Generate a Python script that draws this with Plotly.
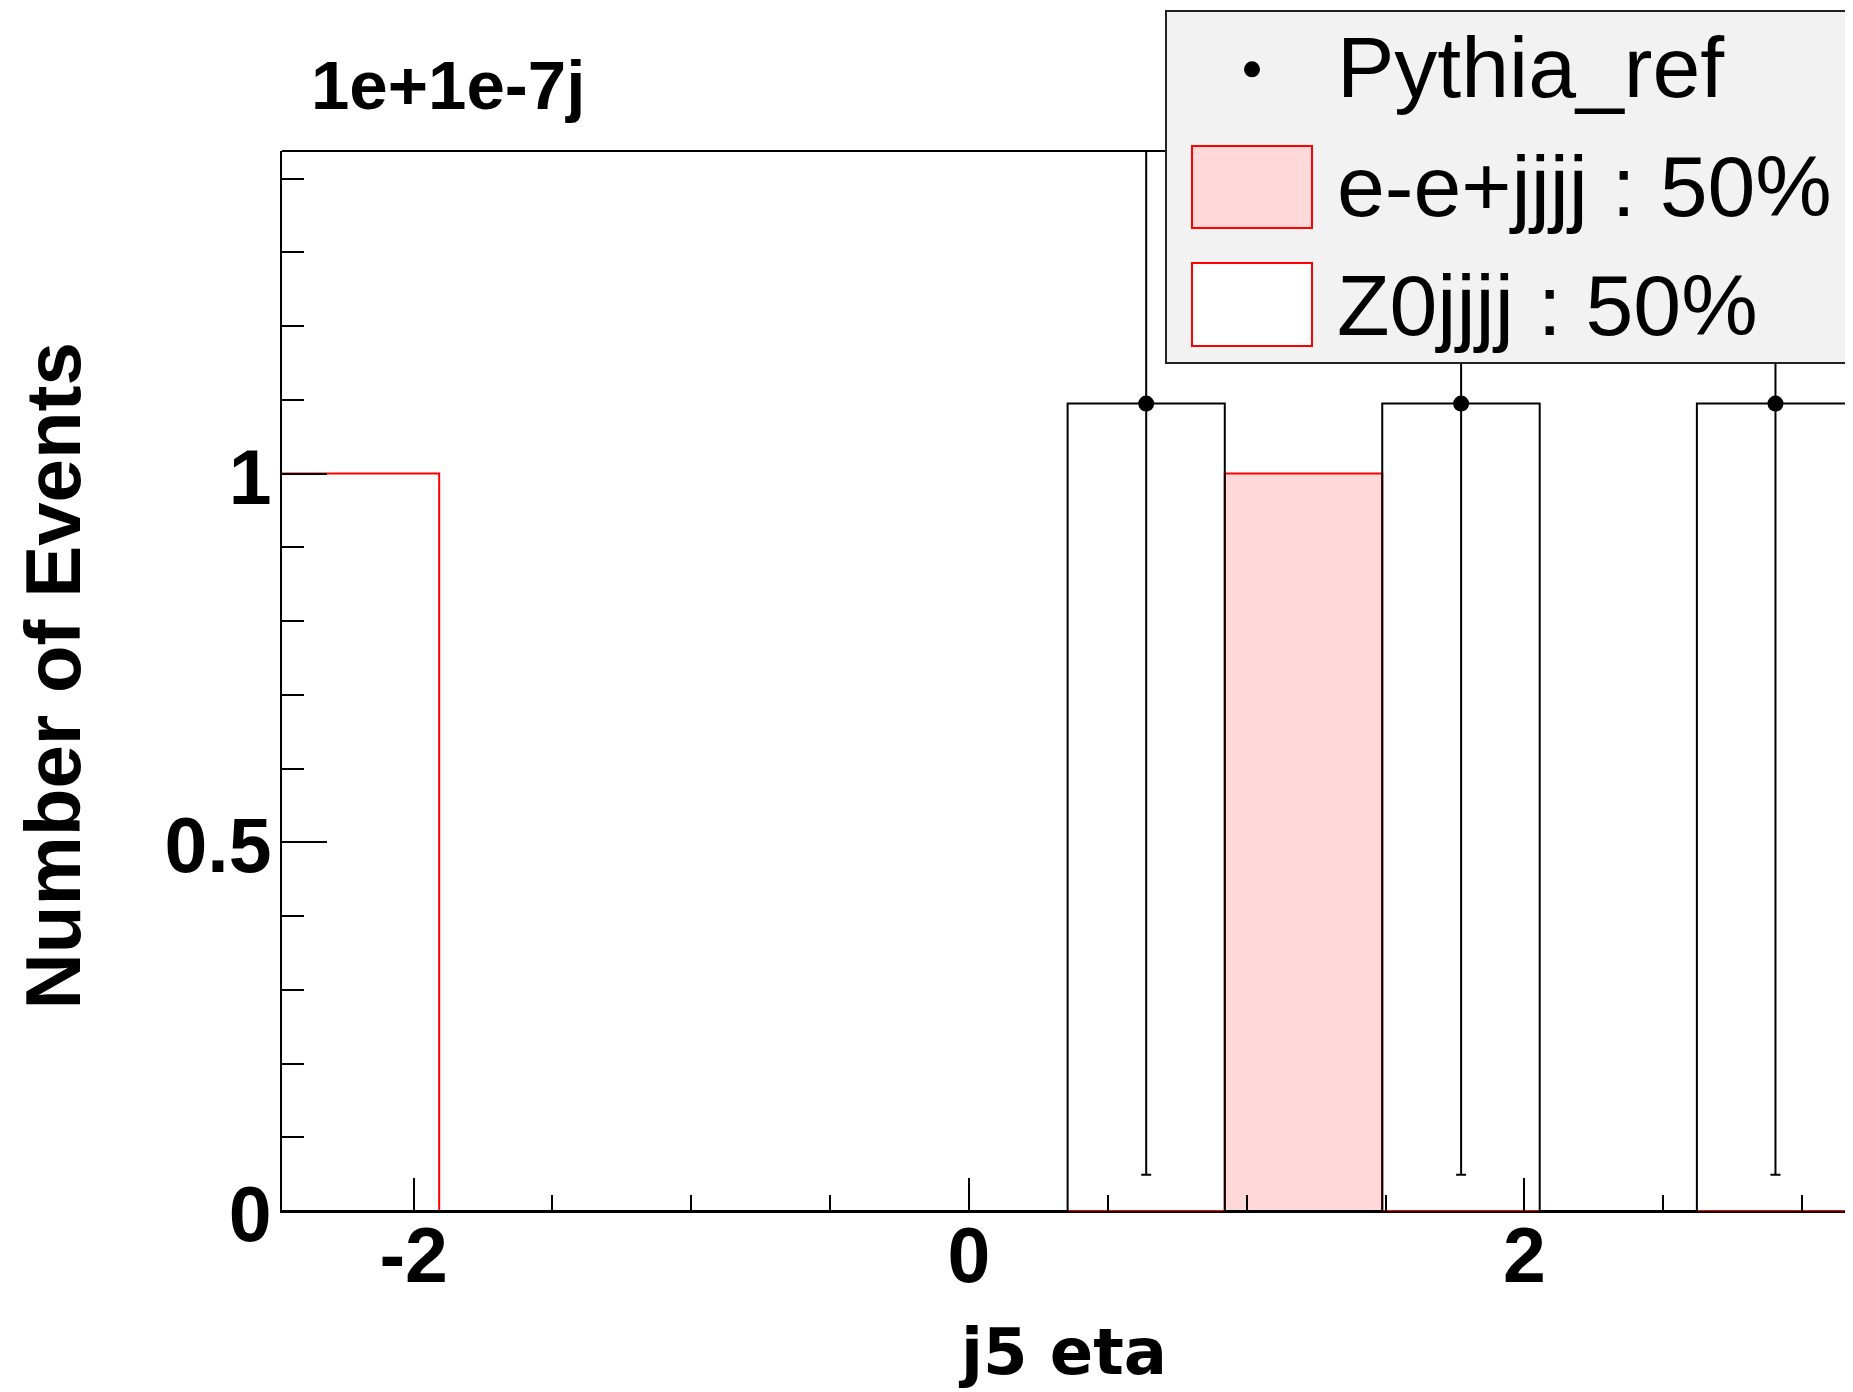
import plotly.graph_objects as go

# ------------------------------------------------------------------
# data
# ------------------------------------------------------------------
edges = [-2.474, -1.908, -1.341, -0.775, -0.210, 0.355, 0.921, 1.488, 2.055, 2.621, 3.188]

pythia_counts = [0, 0, 0, 0, 0, 1.095, 0, 1.095, 0, 1.095]
pythia_x = [0.638, 1.772, 2.904]
pythia_y = [1.095, 1.095, 1.095]
pythia_err = [1.046, 1.046, 1.046]

eejjjj_counts = [0, 0, 0, 0, 0, 0, 1, 0, 0, 0]
z0jjjj_counts = [1, 0, 0, 0, 0, 0, 0, 0, 0, 0]

legend_labels = ["Pythia_ref", "e-e+jjjj : 50%", "Z0jjjj : 50%"]

x_ticks = [-2, 0, 2]
x_ticktext = ["-2", "0", "2"]
y_ticks = [0, 0.5, 1]
y_ticktext = ["0", "0.5", "1"]

# ------------------------------------------------------------------
# geometry (page pixels; the page body adds an 8 px margin)
# ------------------------------------------------------------------
OFF = 8
W, H = 1853 - OFF, 1392 - OFF
L, R, T, B = 282 - OFF, 0, 151 - OFF, 181
PW, PH = W - L - R, H - T - B
PINK = "#ffd9d9"
SANS = "Liberation Sans, Arial, sans-serif"


def px(x):
    return (x - OFF - L) / PW


def py(y):
    return (H - B - (y - OFF)) / PH


def step(counts):
    return edges, list(counts) + [counts[-1]]


fig = go.Figure()

sx, sy = step(z0jjjj_counts)
fig.add_trace(go.Scatter(
    x=sx, y=sy, mode="lines", line=dict(shape="hv", color="red", width=2),
    fill="tozeroy", fillcolor="white", hoverinfo="skip",
))
sx, sy = step(eejjjj_counts)
fig.add_trace(go.Scatter(
    x=sx, y=sy, mode="lines", line=dict(shape="hv", color="red", width=2),
    fill="tozeroy", fillcolor=PINK, hoverinfo="skip",
))
sx, sy = step(pythia_counts)
fig.add_trace(go.Scatter(
    x=sx, y=sy, mode="lines", line=dict(shape="hv", color="black", width=2),
    hoverinfo="skip",
))
fig.add_trace(go.Scatter(
    x=pythia_x, y=pythia_y, mode="markers",
    marker=dict(color="black", size=16),
    error_y=dict(type="data", array=pythia_err, color="black", thickness=2, width=5),
))

# frame top line
shapes = [dict(type="line", xref="paper", yref="paper", x0=0, x1=1, y0=1, y1=1,
               line=dict(color="black", width=2))]

# legend box
shapes.append(dict(type="rect", xref="paper", yref="paper",
                   x0=px(1166), x1=px(1870), y0=py(363), y1=py(11),
                   fillcolor="#f2f2f2", line=dict(color="#222222", width=2)))
shapes.append(dict(type="circle", xref="paper", yref="paper",
                   x0=px(1244), x1=px(1260), y0=py(77.3), y1=py(61.3),
                   fillcolor="black", line=dict(color="black", width=0)))
shapes.append(dict(type="rect", xref="paper", yref="paper",
                   x0=px(1192), x1=px(1312), y0=py(228), y1=py(146),
                   fillcolor=PINK, line=dict(color="red", width=2)))
shapes.append(dict(type="rect", xref="paper", yref="paper",
                   x0=px(1192), x1=px(1312), y0=py(346), y1=py(263),
                   fillcolor="white", line=dict(color="red", width=2)))

annotations = []
for label, base in zip(legend_labels, [96.7, 216, 335]):
    annotations.append(dict(
        text=label, xref="paper", yref="paper", x=px(1335), y=py(base - 0.3465 * 86),
        xanchor="left", yanchor="middle", showarrow=False,
        font=dict(family=SANS, size=86, color="black"),
    ))

annotations.append(dict(
    text="<b>1e+1e-7j</b>", xref="paper", yref="paper", x=px(309), y=py(109 - 0.3465 * 69),
    xanchor="left", yanchor="middle", showarrow=False,
    font=dict(family=SANS, size=69, color="black"),
))
annotations.append(dict(
    text="<b>Number of Events</b>", xref="paper", yref="paper",
    x=px(52), y=py(676.5), textangle=-90,
    xanchor="center", yanchor="middle", showarrow=False,
    font=dict(family=SANS, size=78, color="black"),
))
annotations.append(dict(
    text="<b>j5 eta</b>", xref="paper", yref="paper", x=px(1062.5), y=py(1374 - 0.346 * 64),
    xanchor="center", yanchor="middle", showarrow=False,
    font=dict(family="DejaVu Sans, sans-serif", size=64, color="black"),
))

fig.update_layout(
    width=W, height=H, margin=dict(l=L, r=R, t=T, b=B, pad=0),
    paper_bgcolor="white", plot_bgcolor="white", showlegend=False,
    template="none",
    shapes=shapes, annotations=annotations,
    xaxis=dict(
        range=[-2.474, -2.474 + PW / 277.7], showgrid=False, zeroline=False,
        showline=True, linecolor="black", linewidth=2,
        tickvals=x_ticks, ticktext=x_ticktext,
        ticks="inside", ticklen=33, tickwidth=2, tickcolor="black",
        minor=dict(dtick=0.5, ticks="inside", ticklen=16, tickwidth=2, tickcolor="black"),
        tickfont=dict(family=SANS, size=77, color="black", weight="bold"),
        ticklabelstandoff=-23,
    ),
    yaxis=dict(
        range=[0, PH / 737.4], showgrid=False, zeroline=False,
        showline=True, linecolor="black", linewidth=2,
        tickvals=y_ticks, ticktext=y_ticktext,
        ticks="inside", ticklen=45, tickwidth=2, tickcolor="black",
        minor=dict(dtick=0.1, ticks="inside", ticklen=22, tickwidth=2, tickcolor="black"),
        tickfont=dict(family=SANS, size=77, color="black", weight="bold"),
        ticklabelshift=3, ticklabelstandoff=-7,
    ),
)

fig.write_html("out.html")
